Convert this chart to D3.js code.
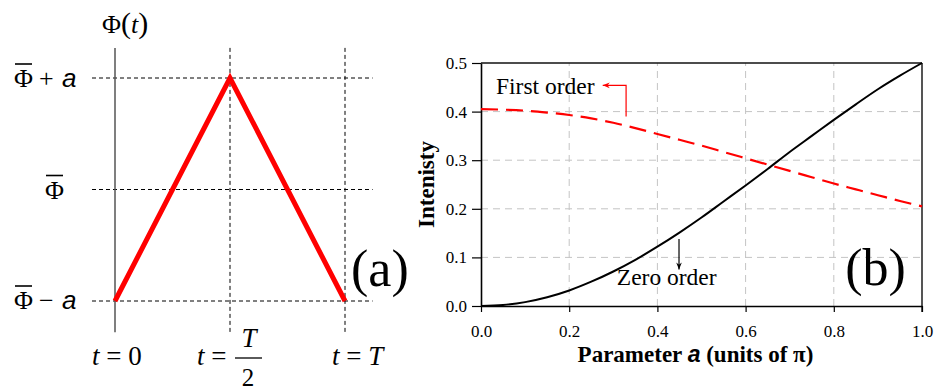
<!DOCTYPE html>
<html>
<head>
<meta charset="utf-8">
<script src="https://cdn.jsdelivr.net/npm/d3@7"></script>
<style>
body { margin: 0; background: #fff; }
svg { font-family: "Liberation Serif", "Times New Roman", serif; }
text { fill: #000; }
</style>
</head>
<body>
<div id="chart"></div>
<script>
// panel (a): triangle phase over one period, t in units of T
var triT = [0, 0.5, 1];
var triPhi = [-1, 1, -1];
var phiLevels = [-1, 0, 1];
var tMarks = [0.5, 1];

// panel (b): intensities vs parameter a (units of pi)
var paramA = [0, 0.05, 0.1, 0.15, 0.2, 0.25, 0.3, 0.35, 0.4, 0.45, 0.5,
	0.55, 0.6, 0.65, 0.7, 0.75, 0.8, 0.85, 0.9, 0.95, 1.0];
var zeroOrder = [0, 0.002, 0.008, 0.018, 0.032, 0.050, 0.071, 0.095, 0.122, 0.151, 0.182,
	0.215, 0.248, 0.282, 0.317, 0.350, 0.383, 0.415, 0.446, 0.474, 0.5];
var firstOrder = [0.405, 0.404, 0.402, 0.398, 0.393, 0.386, 0.377, 0.366, 0.354, 0.342, 0.330,
	0.317, 0.304, 0.291, 0.278, 0.265, 0.252, 0.240, 0.228, 0.216, 0.205];
var xTicks = [0, 0.2, 0.4, 0.6, 0.8, 1.0];
var yTicks = [0, 0.1, 0.2, 0.3, 0.4, 0.5];

var serif = "'Liberation Serif', 'Times New Roman', serif";
var sans = "'Liberation Sans', Arial, sans-serif";

var svg = d3.select("#chart").append("svg")
	.attr("width", 935)
	.attr("height", 390)
	.attr("font-family", serif);

var defs = svg.append("defs");
var addArrow = function(id, c) {
	defs.append("marker")
		.attr("id", id)
		.attr("viewBox", "0 0 10 10")
		.attr("refX", 10)
		.attr("refY", 5)
		.attr("markerWidth", 9)
		.attr("markerHeight", 7)
		.attr("markerUnits", "userSpaceOnUse")
		.attr("orient", "auto")
		.append("path")
		.attr("d", "M0,1 L10,5 L0,9 L3,5 Z")
		.attr("fill", c);
};
addArrow("arrRed", "#f00");
addArrow("arrBlack", "#000");

/* ---------- panel (a) ---------- */
var xa = d3.scaleLinear().domain([0, 1]).range([115, 345]);
var ya = d3.scaleLinear().domain([-1, 1]).range([301, 78]);
var ga = svg.append("g");

// dotted guide lines
ga.selectAll("line.hlev").data(phiLevels).enter().append("line")
	.attr("x1", xa(-0.1)).attr("x2", xa(1.12))
	.attr("y1", function(d) { return ya(d); })
	.attr("y2", function(d) { return ya(d); })
	.attr("stroke", "#000").attr("stroke-width", 1)
	.attr("stroke-dasharray", "4,3");

ga.selectAll("line.vlev").data(tMarks).enter().append("line")
	.attr("x1", function(d) { return xa(d); })
	.attr("x2", function(d) { return xa(d); })
	.attr("y1", ya(1.27)).attr("y2", ya(-1.28))
	.attr("stroke", "#000").attr("stroke-width", 1)
	.attr("stroke-dasharray", "4,3");

// phase axis
ga.append("line")
	.attr("x1", xa(0)).attr("x2", xa(0))
	.attr("y1", ya(1.27)).attr("y2", ya(-1.28))
	.attr("stroke", "#555").attr("stroke-width", 1.5);

var triLine = d3.line()
	.x(function(d) { return xa(d[0]); })
	.y(function(d) { return ya(d[1]); });

ga.append("path")
	.attr("d", triLine(d3.zip(triT, triPhi)))
	.attr("fill", "none")
	.attr("stroke", "#f00")
	.attr("stroke-width", 5)
	.attr("stroke-linejoin", "miter");

// Phi(t) title
var phiTitle = ga.append("text").attr("x", 102).attr("y", 33).attr("font-size", 26);
phiTitle.append("tspan").text("Φ");
phiTitle.append("tspan").attr("font-size", 30).text("(");
phiTitle.append("tspan").attr("font-style", "italic").text("t");
phiTitle.append("tspan").attr("font-size", 30).text(")");

// level labels with overbar
var phiBarLabel = function(x, y, sign) {
	var t = ga.append("text").attr("y", y).attr("font-size", 26);
	t.append("tspan").attr("x", x).text("Φ");
	if (sign) {
		t.append("tspan").attr("x", x + 25).text(sign);
		t.append("tspan").attr("x", x + 48)
			.attr("font-family", sans)
			.attr("font-style", "italic")
			.text("a");
	}
	var w = t.node().getSubStringLength(0, 1);
	ga.append("line")
		.attr("x1", x + 1).attr("x2", x + w - 1)
		.attr("y1", y - 23).attr("y2", y - 23)
		.attr("stroke", "#000").attr("stroke-width", 1.6);
};
phiBarLabel(14, ya(1) + 9, "+");
phiBarLabel(45, ya(0) + 9, null);
phiBarLabel(14, ya(-1) + 8, "\u2212");

// time labels
var tLabel = function(x, rest) {
	var t = ga.append("text").attr("x", x).attr("y", 365).attr("font-size", 27);
	t.append("tspan").attr("font-style", "italic").text("t");
	t.append("tspan").text(" = ");
	if (rest) {
		t.append("tspan").attr("font-style", rest.italic ? "italic" : "normal").text(rest.s);
	}
	return t;
};
tLabel(xa(0) - 23, { s: "0", italic: false });
tLabel(xa(0.5) - 33, null);
tLabel(xa(1) - 13, { s: "T", italic: true });

// T / 2 fraction
ga.append("text").attr("x", xa(0.5) + 19).attr("y", 347)
	.attr("font-size", 27).attr("font-style", "italic")
	.attr("text-anchor", "middle").text("T");
ga.append("line")
	.attr("x1", xa(0.5) + 5).attr("x2", xa(0.5) + 32)
	.attr("y1", 358).attr("y2", 358)
	.attr("stroke", "#000").attr("stroke-width", 1.3);
ga.append("text").attr("x", xa(0.5) + 18).attr("y", 386)
	.attr("font-size", 25)
	.attr("text-anchor", "middle").text("2");

ga.append("text").attr("x", 351).attr("y", 286)
	.attr("font-size", 52).text("(a)");

/* ---------- panel (b) ---------- */
var x = d3.scaleLinear().domain([0, 1]).range([481, 922]);
var y = d3.scaleLinear().domain([0, 0.5]).range([306, 63]);
var gb = svg.append("g");

// grid
gb.selectAll("line.vgrid").data(xTicks.slice(1, -1)).enter().append("line")
	.attr("x1", function(d) { return x(d); })
	.attr("x2", function(d) { return x(d); })
	.attr("y1", y(0)).attr("y2", y(0.5))
	.attr("stroke", "#c4c4c4").attr("stroke-width", 1)
	.attr("stroke-dasharray", "7,5");
gb.selectAll("line.hgrid").data(yTicks.slice(1, -1)).enter().append("line")
	.attr("x1", x(0)).attr("x2", x(1))
	.attr("y1", function(d) { return y(d); })
	.attr("y2", function(d) { return y(d); })
	.attr("stroke", "#c4c4c4").attr("stroke-width", 1)
	.attr("stroke-dasharray", "7,5");

// box top and right
gb.append("line")
	.attr("x1", x(0)).attr("x2", x(1))
	.attr("y1", y(0.5)).attr("y2", y(0.5))
	.attr("stroke", "#111").attr("stroke-width", 1.6);
gb.append("line")
	.attr("x1", x(1)).attr("x2", x(1))
	.attr("y1", y(0.5)).attr("y2", y(0) + 6)
	.attr("stroke", "#555").attr("stroke-width", 2);

var fmt = d3.format(".1f");
var xAxis = gb.append("g")
	.attr("transform", "translate(0," + y(0) + ")")
	.call(d3.axisBottom(x).tickValues(xTicks).tickFormat(fmt)
		.tickSize(6).tickSizeOuter(0).tickPadding(13));
var yAxis = gb.append("g")
	.attr("transform", "translate(" + x(0) + ",0)")
	.call(d3.axisLeft(y).tickValues(yTicks).tickFormat(fmt)
		.tickSize(9).tickSizeOuter(0).tickPadding(5));

[xAxis, yAxis].forEach(function(a) {
	a.attr("font-family", serif).attr("font-size", null);
	a.selectAll("text").attr("font-size", 17).attr("fill", "#000");
	a.selectAll("line").attr("stroke", "#000").attr("stroke-width", 1.2);
	a.select(".domain").attr("stroke", "#000").attr("stroke-width", 1.6);
});

var lineFunction = d3.line()
	.x(function(d) { return x(d[0]); })
	.y(function(d) { return y(d[1]); })
	.curve(d3.curveMonotoneX);

gb.append("path")
	.attr("d", lineFunction(d3.zip(paramA, firstOrder)))
	.attr("fill", "none")
	.attr("stroke", "#f00")
	.attr("stroke-width", 2.2)
	.attr("stroke-dasharray", "17,8");

gb.append("path")
	.attr("d", lineFunction(d3.zip(paramA, zeroOrder)))
	.attr("fill", "none")
	.attr("stroke", "#000")
	.attr("stroke-width", 2);

// annotations
gb.append("text").attr("x", x(0.034)).attr("y", y(0.437))
	.attr("font-size", 23.5).text("First order");
gb.append("path")
	.attr("d", "M" + x(0.329) + "," + y(0.39) + "V" + y(0.454) + "H" + x(0.276))
	.attr("fill", "none").attr("stroke", "#f00").attr("stroke-width", 1.2)
	.attr("marker-end", "url(#arrRed)");

gb.append("text").attr("x", x(0.308)).attr("y", y(0.043))
	.attr("font-size", 23.5).text("Zero order");
gb.append("path")
	.attr("d", "M" + x(0.449) + "," + y(0.138) + "V" + y(0.075))
	.attr("fill", "none").attr("stroke", "#000").attr("stroke-width", 1.2)
	.attr("marker-end", "url(#arrBlack)");

gb.append("text").attr("x", x(0.826)).attr("y", y(0.043))
	.attr("font-size", 52).text("(b)");

// axis titles
var xTitle = gb.append("text")
	.attr("x", (x(0) + x(1)) / 2 - 6).attr("y", 362)
	.attr("text-anchor", "middle")
	.attr("font-size", 23).attr("font-weight", "bold");
xTitle.append("tspan").text("Parameter ");
xTitle.append("tspan")
	.attr("font-family", sans)
	.attr("font-style", "italic").text("a");
xTitle.append("tspan").text("  (units of π)");

gb.append("text")
	.attr("transform", "translate(434," + (y(0) + y(0.5)) / 2 + ") rotate(-90)")
	.attr("text-anchor", "middle")
	.attr("font-size", 23).attr("font-weight", "bold")
	.text("Intenisty");
</script>
</body>
</html>
